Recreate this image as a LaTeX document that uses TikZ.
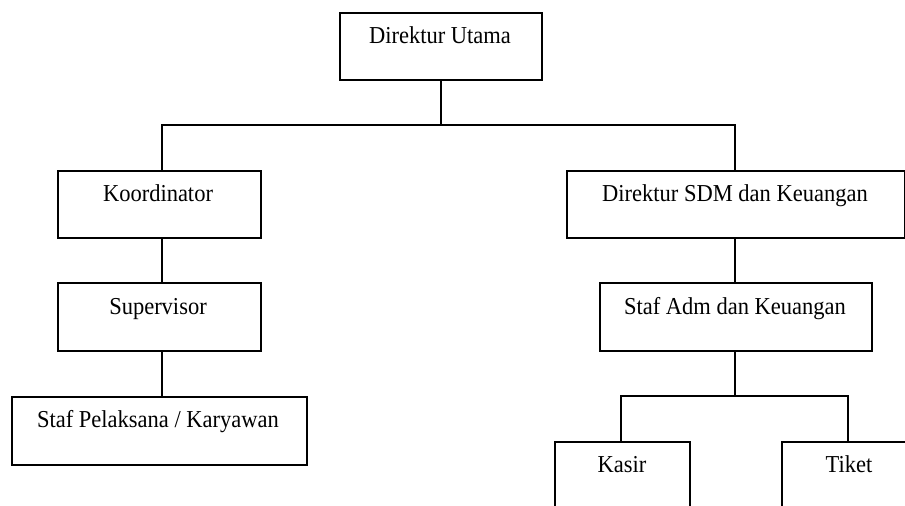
\documentclass[tikz,border=0pt]{standalone}
\usepackage{fontspec}
\usepackage{graphicx}
\setmainfont{Liberation Serif}
\newcommand{\tallt}[1]{\scalebox{1}[1.08]{#1}}
\begin{document}
\begin{tikzpicture}[x=1pt,y=-1pt,
  box/.style={draw=black, line width=1.7pt, rectangle, inner sep=0pt, anchor=north west},
  lbl/.style={anchor=base, inner sep=0pt, font=\fontsize{22.5}{26}\selectfont},
  link/.style={draw=black, line width=1.7pt}]
\useasboundingbox (0,0) rectangle (905,506);
\clip (0,0) rectangle (905,506);
% boxes
\node[box, minimum width=202pt, minimum height=67pt] (du) at (339,12) {};
\node[box, minimum width=203pt, minimum height=67pt] (ko) at (57,170) {};
\node[box, minimum width=338pt, minimum height=67pt] (sdm) at (566,170) {};
\node[box, minimum width=203pt, minimum height=68pt] (su) at (57,282) {};
\node[box, minimum width=272pt, minimum height=68pt] (sa) at (599,282) {};
\node[box, minimum width=295pt, minimum height=68pt] (sp) at (11,396) {};
\node[box, minimum width=135pt, minimum height=90pt] (ka) at (554,441) {};
\node[box, minimum width=134pt, minimum height=90pt] (ti) at (781,441) {};
% labels
\node[lbl] (tdu) at (440,43) {\tallt{Direktur Utama}};
\node[lbl] (tko) at (158,201) {\tallt{Koordinator}};
\node[lbl] (tsdm) at (735,201) {\tallt{Direktur SDM dan Keuangan}};
\node[lbl] (tsu) at (158,314) {\tallt{Supervisor}};
\node[lbl] (tsa) at (735,314) {\tallt{Staf Adm dan Keuangan}};
\node[lbl] (tsp) at (158,427) {\tallt{Staf Pelaksana / Karyawan}};
\node[lbl] (tka) at (622,472) {\tallt{Kasir}};
\node[lbl] (tti) at (849,472) {\tallt{Tiket}};
% connectors
\coordinate (j1) at (441,125);
\coordinate (jl) at (162,125);
\coordinate (jr) at (735,125);
\coordinate (j2) at (735,396);
\coordinate (jk) at (621,396);
\coordinate (jt) at (848,396);
\draw[link] (du.south -| j1) -- (j1);
\draw[link] (ko.north -| jl) -- (jl) -- (jr) -- (sdm.north -| jr);
\draw[link] (ko.south -| jl) -- (su.north -| jl);
\draw[link] (su.south -| jl) -- (sp.north -| jl);
\draw[link] (sdm.south -| jr) -- (sa.north -| jr);
\draw[link] (sa.south -| j2) -- (j2);
\draw[link] (ka.north -| jk) -- (jk) -- (jt) -- (ti.north -| jt);
\end{tikzpicture}
\end{document}
